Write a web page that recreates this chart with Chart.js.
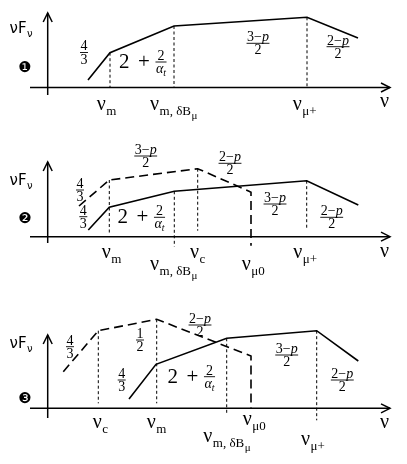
<!DOCTYPE html>
<html><head><meta charset="utf-8">
<script src="https://cdn.jsdelivr.net/npm/chart.js@4"></script>
<style>
html,body{margin:0;padding:0;background:#fff;}
canvas{position:absolute;left:0;}
</style>
</head><body>
<canvas id="c1" width="407" height="130" style="top:0px"></canvas>
<canvas id="c2" width="407" height="170" style="top:130px"></canvas>
<canvas id="c3" width="407" height="164" style="top:300px"></canvas>
<script>
// ---------------- DATA (x = log frequency units, y = log flux above axis) ----------------
// Panel 1
const p1SolidX = [88, 110, 174, 307, 358];
const p1SolidY = [7.5, 34.8, 61.5, 70.2, 49.5];
const p1GuideX = [110, 174, 307];
const p1GuideTop = [34.8, 61.5, 70.2];
const p1GuideBottom = [0, 0, 0];
// Panel 2
const p2DashX = [79, 109.3, 197.7, 249, 251, 251];
const p2DashY = [30.7, 56.7, 68, 45.5, 44.5, -9];
const p2SolidX = [88.3, 109.3, 174.3, 306.7, 358.3];
const p2SolidY = [6.7, 29.4, 45.4, 56, 31.7];
const p2GuideX = [109.3, 174.3, 197.7, 306.7];
const p2GuideTop = [56.7, 45.4, 68, 56];
const p2GuideBottom = [3, -10, 6, 8];
// Panel 3
const p3DashX = [63.3, 98.3, 156.7, 251, 251];
const p3DashY = [36.6, 77.6, 89, 52.3, 0];
const p3SolidX = [129, 156, 226.7, 316.7, 358.3];
const p3SolidY = [9.3, 44, 70, 77.6, 47.3];
const p3GuideX = [98.3, 156.7, 226.7, 316.7];
const p3GuideTop = [77.6, 89, 70, 77.6];
const p3GuideBottom = [5, 5, -7, -12];

// Tick labels (frequency break names)
const p1Ticks = [["m",""], ["m, δB","μ"], ["μ+",""]];
const p2Ticks = [["m",""], ["c",""], ["m, δB","μ"], ["μ0",""], ["μ+",""]];
const p3Ticks = [["c",""], ["m",""], ["μ0",""], ["m, δB","μ"], ["μ+",""]];
// Slope labels
const p1Slopes = ["4/3", "2+2/αt", "3-p/2", "2-p/2"];
const p2Slopes = ["3-p/2", "2-p/2", "4/3", "4/3", "2+2/αt", "3-p/2", "2-p/2"];
const p3Slopes = ["4/3", "1/2", "2-p/2", "4/3", "2+2/αt", "3-p/2", "2-p/2"];
const panelMarks = ["❶", "❷", "❸"];

// ---------------- LAYOUT ----------------
const SERIF = '"Liberation Serif","DejaVu Serif",serif';
const SANS = '"DejaVu Sans","Liberation Sans",sans-serif';

function pts(xs, ys){ return xs.map((x,i)=>({x:x, y:ys[i]})); }

function fontStr(size, italic){ return (italic?'italic ':'') + size + 'px ' + SERIF; }

function segWidth(ctx, segs, size){
  let w = 0;
  segs.forEach(s=>{ const sz = s.sub? size*0.7 : size; ctx.font = fontStr(sz, s.i); w += ctx.measureText(s.t).width; });
  return w;
}
function drawSegs(ctx, x, base, segs, size){
  segs.forEach(s=>{
    const sz = s.sub? size*0.7 : size;
    ctx.font = fontStr(sz, s.i);
    ctx.fillText(s.t, x, base + (s.sub? size*0.22 : 0));
    x += ctx.measureText(s.t).width;
  });
}
function parseFracPart(str){
  if (str === 'αt') return [{t:'α', i:true},{t:'t', i:true, sub:true}];
  if (str.indexOf('-')>=0){ const a = str.split('-'); return [{t:a[0]+'−', i:false},{t:a[1], i:true}]; }
  return [{t:str, i:false}];
}
function drawFrac(ctx, cx, cy, numStr, denStr, size){
  const num = parseFracPart(numStr), den = parseFracPart(denStr);
  const wn = segWidth(ctx, num, size), wd = segWidth(ctx, den, size);
  const w = Math.max(wn, wd) + 1;
  ctx.fillStyle = '#000';
  ctx.textBaseline = 'alphabetic';
  drawSegs(ctx, cx - wn/2, cy - 2.2, num, size);
  drawSegs(ctx, cx - wd/2, cy + size*0.68 + 1.5, den, size);
  ctx.strokeStyle = '#000'; ctx.lineWidth = 0.9; ctx.setLineDash([]);
  ctx.beginPath(); ctx.moveTo(cx - w/2, cy); ctx.lineTo(cx + w/2, cy); ctx.stroke();
}
function drawSlope(ctx, lab, px, py, fs){
  if (lab.startsWith('2+')){
    ctx.fillStyle = '#000'; ctx.textBaseline = 'alphabetic';
    ctx.font = (fs+7) + 'px ' + SERIF;
    ctx.fillText('2', px, py + 6);
    ctx.fillText('+', px + 19, py + 6);
    drawFrac(ctx, px + 42, py, '2', 'αt', fs);
    return;
  }
  const parts = lab.split('/');
  drawFrac(ctx, px, py, parts[0], parts[1], fs);
}
function drawNu(ctx, x, base, sub, subsub){
  ctx.fillStyle = '#000'; ctx.textBaseline = 'alphabetic';
  ctx.font = '20px ' + SERIF;
  ctx.fillText('ν', x, base);
  let xx = x + ctx.measureText('ν').width + 0.5;
  ctx.font = '13px ' + SERIF;
  ctx.fillText(sub, xx, base + 5);
  xx += ctx.measureText(sub).width;
  if (subsub){ ctx.font = '11px ' + SERIF; ctx.fillText(subsub, xx + 0.5, base + 9); }
}
function drawArrows(ctx, xs, ys){
  ctx.strokeStyle = '#000'; ctx.lineWidth = 1.5; ctx.setLineDash([]);
  ctx.beginPath();
  ctx.moveTo(xs.yAxisX - 4.5, ys.yTop + 9); ctx.lineTo(xs.yAxisX, ys.yTop); ctx.lineTo(xs.yAxisX + 4.5, ys.yTop + 9);
  ctx.stroke();
  ctx.beginPath();
  ctx.moveTo(xs.xEnd - 9, ys.axis - 4.5); ctx.lineTo(xs.xEnd, ys.axis); ctx.lineTo(xs.xEnd - 9, ys.axis + 4.5);
  ctx.stroke();
}

const panels = [
  { id:'c1', H:130, A:87.5, yTop:74.5, yBot:-7.5,
    solid:[p1SolidX,p1SolidY], dash:null, guides:[p1GuideX,p1GuideTop,p1GuideBottom],
    ticks:p1Ticks, tickPos:[[96.7,-22.5],[150,-22.5],[292.7,-22.5]], nuPos:[380,-19.5],
    slopes:p1Slopes, slopePos:[[84,35],[119,25.5],[258,44.2],[338,40.8]],
    yLab:54.5, mark:19.5, markIdx:0 },
  { id:'c2', H:170, A:106.7, yTop:74.7, yBot:-6.3,
    solid:[p2SolidX,p2SolidY], dash:[p2DashX,p2DashY], guides:[p2GuideX,p2GuideTop,p2GuideBottom],
    ticks:p2Ticks, tickPos:[[101.7,-21.6],[190,-21.6],[150,-33.3],[241.7,-33.3],[293.3,-21.6]], nuPos:[380,-20],
    slopes:p2Slopes, slopePos:[[145.7,80.7],[230,73.4],[80,46.7],[83.3,20],[117.5,19.4],[275,32.7],[331.7,19.4]],
    yLab:51.7, mark:17.7, markIdx:1 },
  { id:'c3', H:164, A:108.3, yTop:73.3, yBot:-9.7,
    solid:[p3SolidX,p3SolidY], dash:[p3DashX,p3DashY], guides:[p3GuideX,p3GuideTop,p3GuideBottom],
    ticks:p3Ticks, tickPos:[[92.7,-20],[146.7,-20],[242.7,-16.7],[203.3,-33.4],[301,-36.7]], nuPos:[380,-20],
    slopes:p3Slopes, slopePos:[[70,61.6],[140,68.3],[200,83.3],[121.7,28.3],[167.5,31.6],[286.7,53.3],[342.3,28.3]],
    yLab:60.3, mark:9.3, markIdx:2 }
];

const AXIS_X = 47.7, X_START = 30, X_END = 390;

panels.forEach(P=>{
  const ds = [];
  ds.push({data:[{x:X_START,y:0},{x:X_END,y:0}], borderColor:'#000', borderWidth:1.5});
  ds.push({data:[{x:AXIS_X,y:P.yBot},{x:AXIS_X,y:P.yTop}], borderColor:'#000', borderWidth:1.5});
  P.guides[0].forEach((gx,i)=>{
    ds.push({data:[{x:gx,y:P.guides[1][i]},{x:gx,y:P.guides[2][i]}], borderColor:'#000', borderWidth:1, borderDash:[3,2.5]});
  });
  if (P.dash) ds.push({data:pts(P.dash[0],P.dash[1]), borderColor:'#000', borderWidth:1.6, borderDash:[9,5]});
  ds.push({data:pts(P.solid[0],P.solid[1]), borderColor:'#000', borderWidth:1.6});
  ds.forEach(d=>{ d.showLine = true; d.pointRadius = 0; d.fill = false; d.tension = 0; d.borderCapStyle='butt'; });

  const plugin = {
    id:'deco'+P.id,
    afterDatasetsDraw(chart){
      const ctx = chart.ctx, sx = chart.scales.x, sy = chart.scales.y;
      const X = v=>sx.getPixelForValue(v), Y = v=>sy.getPixelForValue(v);
      ctx.save();
      drawArrows(ctx, {yAxisX:X(AXIS_X), xEnd:X(X_END)}, {yTop:Y(P.yTop), axis:Y(0)});
      ctx.fillStyle='#000'; ctx.textBaseline='alphabetic';
      ctx.font = '15px ' + SANS;
      ctx.fillText('νF', X(9.5), Y(P.yLab));
      const w = ctx.measureText('νF').width;
      ctx.font = '10px ' + SANS;
      ctx.fillText('ν', X(9.5)+w+0.5, Y(P.yLab)+4);
      ctx.font = '15px ' + SANS; ctx.textAlign='center'; ctx.textBaseline='middle';
      ctx.fillText(panelMarks[P.markIdx], X(25), Y(P.mark));
      ctx.textAlign='left'; ctx.textBaseline='alphabetic';
      P.ticks.forEach((t,i)=>drawNu(ctx, X(P.tickPos[i][0]), Y(P.tickPos[i][1]), t[0], t[1]));
      ctx.font = '20px ' + SERIF; ctx.fillText('ν', X(P.nuPos[0]), Y(P.nuPos[1]));
      P.slopes.forEach((s,i)=>drawSlope(ctx, s, X(P.slopePos[i][0]), Y(P.slopePos[i][1]), 14));
      ctx.restore();
    }
  };

  new Chart(document.getElementById(P.id), {
    type:'scatter',
    data:{datasets:ds},
    options:{
      responsive:false, animation:false, devicePixelRatio:1,
      layout:{padding:0},
      plugins:{legend:{display:false}, tooltip:{enabled:false}},
      scales:{
        x:{type:'linear', min:0, max:407, display:false},
        y:{type:'linear', min:P.A-P.H, max:P.A, display:false}
      }
    },
    plugins:[plugin]
  });
});
</script>
</body></html>
